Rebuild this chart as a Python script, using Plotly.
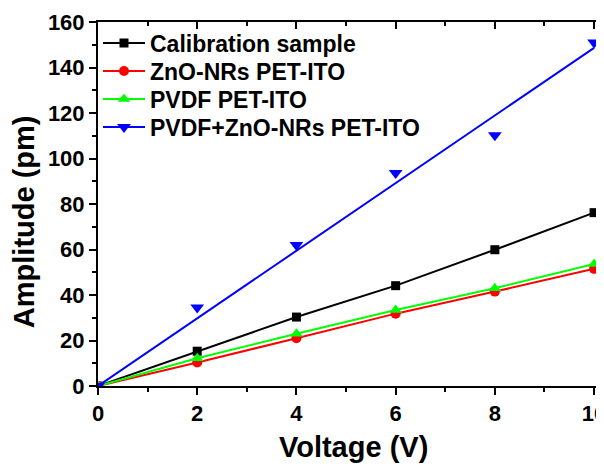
import numpy as np
import plotly.graph_objects as go

voltage = [0, 2, 4, 6, 8, 10]
calibration = [0, 15.3, 30.3, 44.1, 59.9, 76.2]
zno_nrs = [0, 10.3, 21.0, 31.8, 41.5, 51.5]
pvdf = [0, 12.2, 23.0, 33.4, 43.0, 53.6]
pvdf_zno = [0, 34.5, 62.0, 93.6, 110.2, 151.0]

names = ["Calibration sample", "ZnO-NRs PET-ITO", "PVDF PET-ITO", "PVDF+ZnO-NRs PET-ITO"]
colors = ["#000000", "#FF0000", "#00FF00", "#0000FF"]
symbols = ["square", "circle", "triangle-up", "triangle-down"]
legend_ids = ["legend", "legend2", "legend3", "legend4"]
legend_y = [0.9423, 0.8654, 0.7885, 0.7115]

FONT = "Arial, Liberation Sans, sans-serif"

fig = go.Figure()
for ys, nm, c, s, sz, lg in [(calibration, names[0], colors[0], symbols[0], 9, legend_ids[0]),
                             (zno_nrs, names[1], colors[1], symbols[1], 10, legend_ids[1]),
                             (pvdf, names[2], colors[2], symbols[2], 11, legend_ids[2])]:
    fig.add_trace(go.Scatter(x=voltage, y=ys, mode="lines+markers", name=nm, legend=lg,
                             line=dict(color=c, width=2),
                             marker=dict(symbol=s, size=sz, color=c)))

# through-origin linear fit for the blue series
xv = np.array(voltage, dtype=float)
yv = np.array(pvdf_zno, dtype=float)
slope = float((xv * yv).sum() / (xv * xv).sum())
fit_x = [0, 10]
fit_y = [0, slope * 10]
fig.add_trace(go.Scatter(x=fit_x, y=fit_y, mode="lines", showlegend=False,
                         line=dict(color=colors[3], width=2)))
fig.add_trace(go.Scatter(x=voltage, y=pvdf_zno, mode="markers", showlegend=False,
                         marker=dict(symbol=symbols[3], size=12, color=colors[3])))
fig.add_trace(go.Scatter(x=[None], y=[None], mode="lines+markers", name=names[3],
                         legend=legend_ids[3],
                         line=dict(color=colors[3], width=2),
                         marker=dict(symbol=symbols[3], size=12, color=colors[3])))

# invisible trace for top axis
fig.add_trace(go.Scatter(x=[None], y=[None], xaxis="x2", showlegend=False))

legfont = dict(family=FONT, size=23, color="black", weight="bold")
layout_legends = {}
for lg, ly in zip(legend_ids, legend_y):
    layout_legends[lg] = dict(x=0.0, y=ly, xanchor="left", yanchor="middle",
                              bgcolor="rgba(0,0,0,0)", itemwidth=42, font=legfont)

# page body has an 8px default margin, so the figure is 8px smaller
fig.update_layout(
    width=596, height=456,
    margin=dict(l=90, r=0, t=14, b=78),
    paper_bgcolor="white", plot_bgcolor="white",
    font=dict(family=FONT, color="black"),
    showlegend=True,
    **layout_legends,
    xaxis=dict(range=[0, 10.2], tickvals=[0, 2, 4, 6, 8, 10], ticks="outside",
               ticklen=7, tickwidth=2, tickcolor="black", automargin=False,
               ticklabeloverflow="allow",
               minor=dict(dtick=1, ticks="outside", ticklen=4, tickwidth=2, tickcolor="black"),
               showline=True, linecolor="black", linewidth=2, showgrid=False, zeroline=False,
               tickfont=dict(family=FONT, size=22, color="black", weight="bold")),
    xaxis2=dict(overlaying="x", side="top", matches="x", range=[0, 10.2],
                tickvals=[0, 2, 4, 6, 8, 10], ticks="inside", ticklen=7, tickwidth=2,
                tickcolor="black", showticklabels=False, automargin=False,
                minor=dict(dtick=1, ticks="inside", ticklen=4, tickwidth=2, tickcolor="black"),
                showline=True, linecolor="black", linewidth=2, showgrid=False, zeroline=False),
    yaxis=dict(range=[0, 160], dtick=20, ticks="outside", ticklen=7, tickwidth=2,
               tickcolor="black", automargin=False,
               minor=dict(dtick=10, ticks="outside", ticklen=4, tickwidth=2, tickcolor="black"),
               showline=True, linecolor="black", linewidth=2, showgrid=False, zeroline=False,
               tickfont=dict(family=FONT, size=22, color="black", weight="bold")),
    annotations=[
        dict(text="Voltage (V)", xref="paper", yref="paper", x=0.505, y=-0.168,
             xanchor="center", yanchor="middle", showarrow=False,
             font=dict(family=FONT, size=29, color="black", weight="bold")),
        dict(text="Amplitude (pm)", xref="paper", yref="paper", x=-0.146, y=0.4505,
             xanchor="center", yanchor="middle", showarrow=False, textangle=-90,
             font=dict(family=FONT, size=29, color="black", weight="bold")),
    ],
)

fig.write_html("out.html")
